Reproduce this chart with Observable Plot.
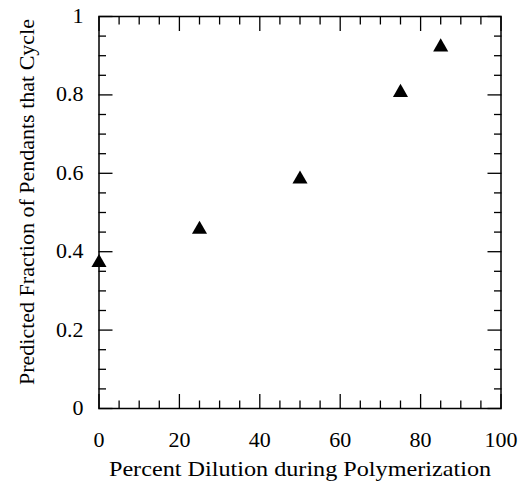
<!DOCTYPE html>
<html><head><meta charset="utf-8">
<script src="https://cdn.jsdelivr.net/npm/d3@7"></script>
<script src="https://cdn.jsdelivr.net/npm/@observablehq/plot@0.6"></script>
<style>html,body{margin:0;padding:0;background:#fff} svg{display:block}</style>
</head><body><div id="chart"></div>
<script>
// Data
const dilution = [0, 25, 50, 75, 85];
const fraction = [0.372, 0.457, 0.585, 0.806, 0.922];

const xTicks = [0, 20, 40, 60, 80, 100];
const xTickLabels = ["0", "20", "40", "60", "80", "100"];
const xMinor = [5, 10, 15, 25, 30, 35, 45, 50, 55, 65, 70, 75, 85, 90, 95];
const yTicks = [0, 0.2, 0.4, 0.6, 0.8, 1];
const yTickLabels = ["0", "0.2", "0.4", "0.6", "0.8", "1"];
const yMinor = [0.05, 0.1, 0.15, 0.25, 0.3, 0.35, 0.45, 0.5, 0.55, 0.65, 0.7, 0.75, 0.85, 0.9, 0.95];

const xLabel = "Percent Dilution during Polymerization";
const yLabel = "Predicted Fraction of Pendants that Cycle";

const points = dilution.map((d, i) => ({dilution: d, fraction: fraction[i]}));

const tickStyle = {text: null, label: null, strokeWidth: 1.3};

const chart = Plot.plot({
  width: 520,
  height: 486,
  marginLeft: 98.5,
  marginRight: 19.5,
  marginTop: 16,
  marginBottom: 78,
  style: {fontFamily: "'Liberation Serif', 'Times New Roman', serif", color: "black", background: "white"},
  x: {domain: [0, 100]},
  y: {domain: [0, 1]},
  marks: [
    // inward major/minor ticks on all four sides
    Plot.axisX(xTicks, {anchor: "bottom", tickSize: -14, ...tickStyle}),
    Plot.axisX(xMinor, {anchor: "bottom", tickSize: -7.5, ...tickStyle}),
    Plot.axisX(xTicks, {anchor: "top", tickSize: -14, ...tickStyle}),
    Plot.axisX(xMinor, {anchor: "top", tickSize: -7.5, ...tickStyle}),
    Plot.axisY(yTicks, {anchor: "left", tickSize: -14, ...tickStyle}),
    Plot.axisY(yMinor, {anchor: "left", tickSize: -7.5, ...tickStyle}),
    Plot.axisY(yTicks, {anchor: "right", tickSize: -14, ...tickStyle}),
    Plot.axisY(yMinor, {anchor: "right", tickSize: -7.5, ...tickStyle}),
    // tick labels
    Plot.axisX(xTicks, {anchor: "bottom", tickSize: 0, tickPadding: 24, fontSize: 20, label: null,
      tickFormat: d => xTickLabels[xTicks.indexOf(d)]}),
    Plot.axisY(yTicks, {anchor: "left", tickSize: 0, tickPadding: 15.5, fontSize: 20, label: null,
      tickFormat: d => yTickLabels[yTicks.indexOf(d)]}),
    Plot.frame({stroke: "black", strokeWidth: 1.5}),
    // axis titles
    Plot.text([xLabel], {text: d => d, frameAnchor: "bottom", textAnchor: "middle", dy: 67, fontSize: 22}),
    Plot.text([yLabel], {text: d => d, frameAnchor: "left", textAnchor: "middle", rotate: -90, dx: -72, dy: -10.5, fontSize: 22}),
    // data
    Plot.dot(points, {x: "dilution", y: "fraction", symbol: "triangle", r: 5.6, fill: "black", stroke: "none"})
  ]
});

// The reference type is slightly wider than it is tall: stretch the horizontal texts a little
const stretchSet = new Set([...xTickLabels, ...yTickLabels, xLabel]);
chart.querySelectorAll("text").forEach(t => {
  if (!stretchSet.has(t.textContent)) return;
  const s = 1.1;
  const tr = t.getAttribute("transform");
  if (tr) {
    t.setAttribute("transform", tr + ` scale(${s},1)`);
  } else {
    const x = +(t.getAttribute("x") || 0), y = +(t.getAttribute("y") || 0);
    t.removeAttribute("x"); t.removeAttribute("y");
    t.setAttribute("transform", `translate(${x},${y}) scale(${s},1)`);
  }
});

document.getElementById("chart").append(chart);
</script>
</body></html>
